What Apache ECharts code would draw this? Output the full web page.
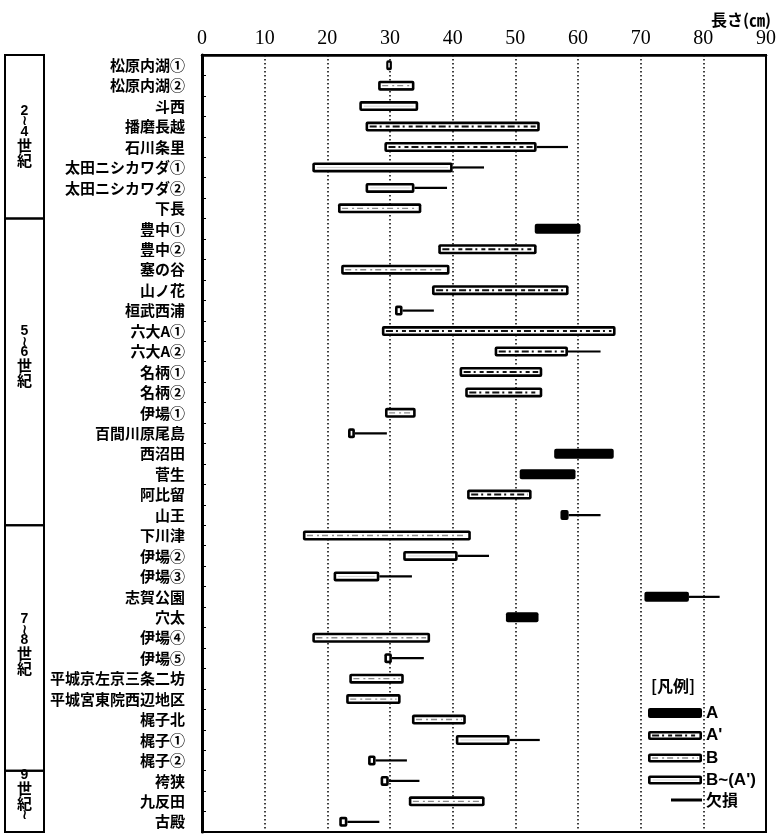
<!DOCTYPE html>
<html><head><meta charset="utf-8">
<script src="https://cdn.jsdelivr.net/npm/echarts@6/dist/echarts.min.js"></script>
<style>html,body{margin:0;padding:0;background:#fff}#c{width:779px;height:834px}</style>
</head><body><div id="c"></div>
<script>
// ---- data ----
const sites = ['松原内湖①','松原内湖②','斗西','播磨長越','石川条里','太田ニシカワダ①','太田ニシカワダ②','下長',
  '豊中①','豊中②','塞の谷','山ノ花','桓武西浦','六大A①','六大A②','名柄①','名柄②','伊場①','百間川原尾島','西沼田','菅生','阿比留','山王',
  '下川津','伊場②','伊場③','志賀公園','穴太','伊場④','伊場⑤','平城京左京三条二坊','平城宮東院西辺地区','梶子北','梶子①','梶子②',
  '袴狭','九反田','古殿'];
const starts = [29.4,28.1,25.1,26.1,29.1,17.6,26.1,21.7,
  53.1,37.7,22.2,36.7,30.8,28.7,46.7,41.1,42.0,29.2,23.3,56.2,50.7,42.3,57.2,
  16.1,32.1,21.0,70.6,48.5,17.6,29.1,23.5,23.0,33.5,40.5,26.5,
  28.5,33.0,21.9];
const ends = [30.3,33.9,34.5,53.9,53.4,40.0,33.9,35.0,
  60.4,53.4,39.5,58.5,32.0,66.0,58.4,54.3,54.3,34.1,24.4,65.7,59.6,52.6,58.5,
  42.9,40.8,28.3,77.7,53.7,36.4,30.3,32.2,31.7,42.1,49.1,27.7,
  29.8,45.1,23.2];
const missingTo = [null,null,null,null,58.4,45.0,39.1,null,
  null,null,null,null,37.0,null,63.6,null,null,null,29.5,null,null,null,63.6,
  null,45.8,33.5,82.6,null,null,35.4,null,null,null,53.9,32.7,
  34.7,null,28.3];
// A = black, A2 = A', B = B, BA = B~(A')
const types = ['BA','B','BA','A2','A2','BA','BA','B',
  'A','A2','B','A2','BA','A2','A2','A2','A2','B','BA','A','A','A2','A',
  'B','BA','BA','A','A','B','BA','B','B','B','BA','BA',
  'BA','B','BA'];
const xTicks = [0,10,20,30,40,50,60,70,80,90];
const periods = [
  {name:'2～4世紀', first:'松原内湖①', last:'下長'},
  {name:'5～6世紀', first:'豊中①', last:'山王'},
  {name:'7～8世紀', first:'下川津', last:'梶子②'},
  {name:'9世紀～', first:'袴狭', last:'古殿'}
];
const legendItems = [
  {type:'A', label:'A'},
  {type:'A2', label:"A'"},
  {type:'B', label:'B'},
  {type:'BA', label:"B~(A')"},
  {type:'miss', label:'欠損'}
];

// ---- drawing helpers ----
function barShapes(x0, x1, yc, h, type, xm) {
  const els = [];
  if (xm != null) els.push({type:'line', shape:{x1:x1, y1:yc, x2:xm, y2:yc}, style:{stroke:'#000', lineWidth:2.2}});
  els.push({type:'rect', shape:{x:x0, y:yc-h/2, width:Math.max(x1-x0,3), height:h, r:2}, style:{fill:'#000'}});
  if (type !== 'A') {
    const ix = 2.6, iy = 2.6;
    const iw = Math.max(x1-x0-2*ix, 1.4);
    const ixx = x0 + (x1-x0-iw)/2;
    els.push({type:'rect', shape:{x:ixx, y:yc-h/2+iy, width:iw, height:h-2*iy}, style:{fill:'#fff'}});
    if (type === 'A2' && iw > 8) els.push({type:'line', shape:{x1:ixx+1.5, y1:yc, x2:ixx+iw-1.5, y2:yc}, style:{stroke:'#111', lineWidth:2, lineDash:[7,3,2,4,4,3]}});
    if (type === 'B' && iw > 8) els.push({type:'line', shape:{x1:ixx+1.5, y1:yc, x2:ixx+iw-1.5, y2:yc}, style:{stroke:'#8a8a8a', lineWidth:1.4, lineDash:[6,4,2,3]}});
    if (type === 'BA' && iw > 8) els.push({type:'line', shape:{x1:ixx+2, y1:yc, x2:ixx+iw-2, y2:yc}, style:{stroke:'#c8c8c8', lineWidth:0.8}});
  }
  return els;
}

const chart = echarts.init(document.getElementById('c'), null, {renderer:'canvas'});
const cjk = '"Noto Sans CJK JP", "Noto Sans", sans-serif';

chart.setOption({
  animation: false,
  title: {text:'長さ(㎝)', right:3, top:7, textStyle:{fontFamily:cjk, fontSize:16, fontWeight:'bold', color:'#000'}},
  grid: {left:202, right:13, top:55, bottom:2, show:true, borderColor:'#000', borderWidth:2, backgroundColor:'transparent'},
  xAxis: {
    type:'value', position:'top', min:xTicks[0], max:xTicks[xTicks.length-1], interval:xTicks[1]-xTicks[0],
    axisLine:{show:true, lineStyle:{color:'#000', width:2.5}},
    axisTick:{show:false},
    axisLabel:{color:'#000', fontFamily:'"Liberation Serif", serif', fontSize:20, margin:6},
    splitLine:{show:true, lineStyle:{color:'#000', width:1.5, type:[1.5,2.5]}}
  },
  yAxis: {
    type:'category', inverse:true, data:sites,
    axisLine:{show:true, lineStyle:{color:'#000', width:3}},
    axisTick:{show:true, inside:true, length:4, lineStyle:{color:'#000', width:1}},
    axisLabel:{color:'#000', fontFamily:cjk, fontSize:15, fontWeight:'bold', margin:17, interval:0},
    splitLine:{show:false}
  },
  series: [{
    type:'custom',
    data: sites.map((s,i)=>[i, starts[i], ends[i]]),
    encode:{x:[1,2], y:0},
    renderItem: function(params, api){
      const i = params.dataIndex;
      const p0 = api.coord([api.value(1), api.value(0)]);
      const p1 = api.coord([api.value(2), api.value(0)]);
      const xm = missingTo[i] != null ? api.coord([missingTo[i], api.value(0)])[0] : null;
      return {type:'group', children: barShapes(p0[0], p1[0], p0[1], 10, types[i], xm)};
    }
  }]
});

// ---- period boxes & legend ----
const gridH = 834 - 55 - 2;
const band = gridH / sites.length;
const shifts = {'5～6世紀': -15, '7～8世紀': -3, '9世紀～': -6};
const graphics = [];
periods.forEach(p => {
  const y0 = chart.convertToPixel({yAxisIndex:0}, p.first) - band/2;
  const y1 = chart.convertToPixel({yAxisIndex:0}, p.last) + band/2;
  graphics.push({type:'rect', shape:{x:5, y:y0, width:39, height:y1-y0}, style:{fill:'none', stroke:'#000', lineWidth:2}});
  const parts = p.name.split('').map(ch => {
    if (/[0-9]/.test(ch)) return '{d|' + ch + '}';
    if (ch === '～') return '{t|≀}';
    return '{k|' + ch + '}';
  });
  graphics.push({type:'text', x:24.5, y:(y0+y1)/2 + (shifts[p.name]||0), style:{
    text: parts.join('\n'), align:'center', verticalAlign:'middle',
    rich:{
      d:{fontFamily:'"Liberation Sans", sans-serif', fontWeight:'bold', fontSize:14, lineHeight:11, fill:'#000', align:'center'},
      t:{fontFamily:'"DejaVu Sans", sans-serif', fontWeight:'bold', fontSize:14, lineHeight:10, fill:'#000', align:'center'},
      k:{fontFamily:cjk, fontWeight:'bold', fontSize:15, lineHeight:15, fill:'#000', align:'center'}
    }
  }});
});

graphics.push({type:'text', x:651, y:686, style:{text:'[凡例]', fontFamily:cjk, fontSize:16, fontWeight:'bold', fill:'#000', verticalAlign:'middle'}});
const legY = [713, 735.5, 758, 780, 800];
legendItems.forEach((it, k) => {
  const yc = legY[k];
  if (it.type === 'miss') {
    graphics.push({type:'line', shape:{x1:671, y1:yc, x2:702, y2:yc}, style:{stroke:'#000', lineWidth:3}});
  } else {
    barShapes(648, 702, yc, it.type === 'A' ? 10 : 9, it.type, null).forEach(e => graphics.push(e));
  }
  graphics.push({type:'text', x:706, y:yc, style:{text:it.label, fontFamily: it.type==='miss' ? cjk : '"Liberation Sans", sans-serif',
    fontSize: it.type==='miss' ? 16 : 17, fontWeight:'bold', fill:'#000', verticalAlign:'middle'}});
});
chart.setOption({graphic: graphics});
</script>
</body></html>
